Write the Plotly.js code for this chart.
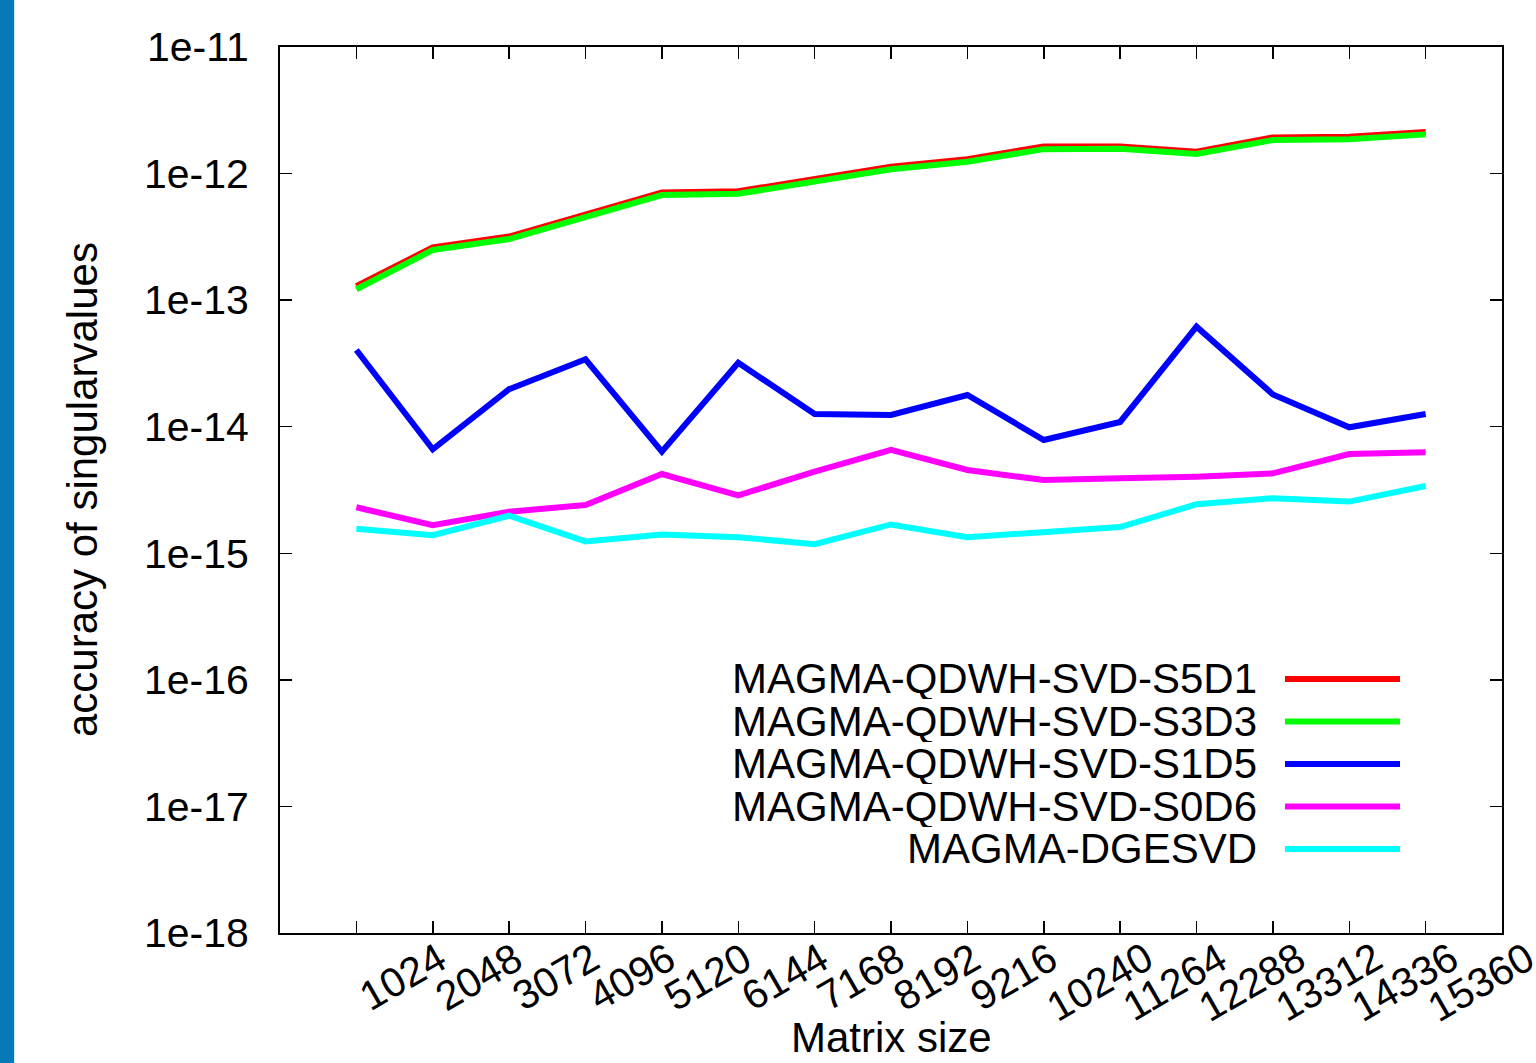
<!DOCTYPE html>
<html>
<head>
<meta charset="utf-8">
<script src="https://cdn.plot.ly/plotly-3.0.1.min.js"></script>
<style>
html, body { margin: 0; padding: 0; background: #ffffff; }
#chart { width: 1536px; height: 1063px; }
</style>
</head>
<body>
<div id="chart"></div>
<script>
// ---- data ----
const matrixSizes = [1024, 2048, 3072, 4096, 5120, 6144, 7168, 8192, 9216, 10240, 11264, 12288, 13312, 14336, 15360];
const xTickLabels = ["1024", "2048", "3072", "4096", "5120", "6144", "7168", "8192", "9216", "10240", "11264", "12288", "13312", "14336", "15360"];
const yTickValues = [1e-18, 1e-17, 1e-16, 1e-15, 1e-14, 1e-13, 1e-12, 1e-11];
const yTickLabels = ["1e-18", "1e-17", "1e-16", "1e-15", "1e-14", "1e-13", "1e-12", "1e-11"];

const seriesNames = ["MAGMA-QDWH-SVD-S5D1", "MAGMA-QDWH-SVD-S3D3", "MAGMA-QDWH-SVD-S1D5", "MAGMA-QDWH-SVD-S0D6", "MAGMA-DGESVD"];
const seriesColors = ["#ff0000", "#00ff00", "#0000ff", "#ff00ff", "#00ffff"];

const s5d1 = [1.29e-13, 2.61e-13, 3.18e-13, 4.75e-13, 7.08e-13, 7.25e-13, 9.05e-13, 1.13e-12, 1.30e-12, 1.64e-12, 1.64e-12, 1.49e-12, 1.93e-12, 1.95e-12, 2.13e-12];
const s3d3 = [1.22e-13, 2.49e-13, 3.04e-13, 4.54e-13, 6.77e-13, 6.93e-13, 8.65e-13, 1.08e-12, 1.24e-12, 1.56e-12, 1.57e-12, 1.43e-12, 1.84e-12, 1.87e-12, 2.04e-12];
const s1d5 = [4.04e-14, 6.63e-15, 1.98e-14, 3.41e-14, 6.35e-15, 3.20e-14, 1.26e-14, 1.24e-14, 1.78e-14, 7.85e-15, 1.09e-14, 6.17e-14, 1.80e-14, 9.89e-15, 1.26e-14];
const s0d6 = [2.31e-15, 1.67e-15, 2.13e-15, 2.41e-15, 4.23e-15, 2.87e-15, 4.41e-15, 6.55e-15, 4.55e-15, 3.79e-15, 3.91e-15, 4.03e-15, 4.28e-15, 6.09e-15, 6.28e-15];
const dgesvd = [1.56e-15, 1.39e-15, 1.98e-15, 1.24e-15, 1.41e-15, 1.34e-15, 1.18e-15, 1.69e-15, 1.34e-15, 1.48e-15, 1.61e-15, 2.44e-15, 2.72e-15, 2.56e-15, 3.40e-15];

const seriesValues = [s5d1, s3d3, s1d5, s0d6, dgesvd];

// ---- styling ----
const FONT = '"Liberation Sans", Arial, Helvetica, sans-serif';
const FS_TICK_X = 41;
const FS_TICK_Y = 41;
const FS_TEXT = 42;
const W = 1536, H = 1063;
const M = { l: 280, r: 34, t: 47, b: 130 };
const PW = W - M.l - M.r, PH = H - M.t - M.b;
const px2x = p => (p - M.l) / PW;
const py2y = p => (M.t + PH - p) / PH;

const traces = seriesValues.map((vals, i) => ({
  type: 'scatter',
  mode: 'lines',
  x: matrixSizes,
  y: vals,
  name: seriesNames[i],
  line: { color: seriesColors[i], width: 6 },
  showlegend: false,
  hoverinfo: 'x+y+name'
}));

const annotations = [];
// rotated x tick labels (left end anchored at tick, rising to the right)
matrixSizes.forEach((v, i) => {
  annotations.push({
    x: v, xref: 'x', y: 0, yref: 'paper',
    text: xTickLabels[i], showarrow: false,
    textangle: -30, xanchor: 'left', yanchor: 'top',
    xshift: -5, yshift: -1, borderpad: 0, borderwidth: 0,
    font: { family: FONT, size: FS_TICK_X, color: '#000' }
  });
});
// legend (text right-aligned, sample line on the right)
const legendRowsPx = [678, 720.5, 763, 805.5, 848];
const shapes = [];
seriesNames.forEach((nm, i) => {
  annotations.push({
    x: px2x(1257), xref: 'paper', y: py2y(legendRowsPx[i]), yref: 'paper',
    text: nm, showarrow: false, xanchor: 'right', yanchor: 'middle',
    height: 42, valign: 'middle', borderpad: 0, borderwidth: 0,
    font: { family: FONT, size: FS_TEXT, color: '#000' }
  });
  shapes.push({
    type: 'line', xref: 'paper', yref: 'paper',
    x0: px2x(1285), x1: px2x(1400), y0: py2y(legendRowsPx[i] + 1), y1: py2y(legendRowsPx[i] + 1),
    line: { color: seriesColors[i], width: 6 }
  });
});
// x title
annotations.push({
  x: 0.5, xref: 'paper', y: py2y(1037), yref: 'paper',
  text: 'Matrix size', showarrow: false, xanchor: 'center', yanchor: 'middle',
  borderpad: 0, borderwidth: 0,
  font: { family: FONT, size: FS_TEXT, color: '#000' }
});
// y title
annotations.push({
  x: px2x(82), xref: 'paper', y: py2y(490), yref: 'paper',
  text: 'accuracy of singularvalues', showarrow: false, textangle: -90,
  xanchor: 'center', yanchor: 'middle',
  font: { family: FONT, size: FS_TEXT, color: '#000' }
});

// left page strip
shapes.push({
  type: 'rect', xref: 'paper', yref: 'paper', layer: 'below',
  x0: px2x(0), x1: px2x(14), y0: py2y(H), y1: py2y(0),
  fillcolor: '#0679b9', line: { width: 0 }
});
shapes.push({
  type: 'rect', xref: 'paper', yref: 'paper', layer: 'below',
  x0: px2x(14), x1: px2x(15), y0: py2y(H), y1: py2y(0),
  fillcolor: '#cfe6f3', line: { width: 0 }
});

const layout = {
  width: W, height: H,
  margin: M,
  paper_bgcolor: '#ffffff',
  plot_bgcolor: '#ffffff',
  showlegend: false,
  font: { family: FONT, size: FS_TEXT, color: '#000' },
  xaxis: {
    range: [0, 16384],
    tickmode: 'array', tickvals: matrixSizes, showticklabels: false,
    ticks: 'inside', ticklen: 12, tickwidth: 1.5, tickcolor: '#000',
    showline: true, linecolor: '#000', linewidth: 2, mirror: 'ticks',
    showgrid: false, zeroline: false, fixedrange: true
  },
  yaxis: {
    type: 'log', range: [-18, -11],
    tickmode: 'array', tickvals: yTickValues, ticktext: yTickLabels,
    ticks: 'inside', ticklen: 12, tickwidth: 1.5, tickcolor: '#000',
    ticklabelstandoff: 21,
    tickfont: { family: FONT, size: FS_TICK_Y, color: '#000' },
    showline: true, linecolor: '#000', linewidth: 2, mirror: 'ticks',
    showgrid: false, zeroline: false, fixedrange: true
  },
  annotations: annotations,
  shapes: shapes
};

Plotly.newPlot('chart', traces, layout, { displayModeBar: false, staticPlot: true });
</script>
</body>
</html>
